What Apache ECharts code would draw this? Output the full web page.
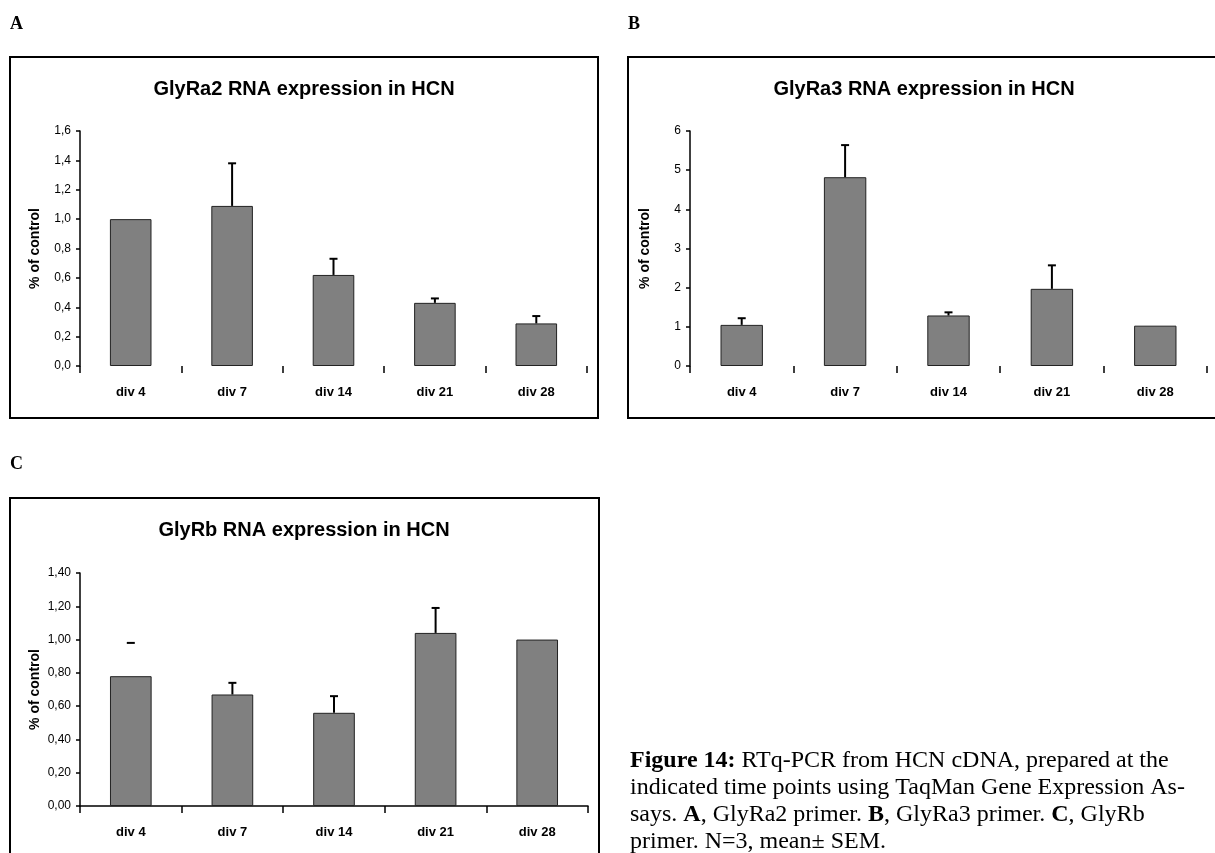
<!DOCTYPE html>
<html>
<head>
<meta charset="utf-8">
<title>GlyR RNA expression in HCN</title>
<script src="https://cdn.jsdelivr.net/npm/echarts@6/dist/echarts.min.js"></script>
<style>
  html, body { margin: 0; padding: 0; background: #fff; }
  #chart { width: 1215px; height: 853px; }
</style>
</head>
<body>
<div id="chart"></div>
<script>
// Days in vitro at which cDNA was prepared
const categories = ['div 4', 'div 7', 'div 14', 'div 21', 'div 28'];

// GlyRa2: mean and mean + SEM
const ra2Mean  = [1.00, 1.09, 0.62, 0.43, 0.29];
const ra2Upper = [null, 1.38, 0.73, 0.46, 0.34];
const ra2Ticks = ['0,0', '0,2', '0,4', '0,6', '0,8', '1,0', '1,2', '1,4', '1,6'];

// GlyRa3: mean and mean + SEM
const ra3Mean  = [1.05, 4.82, 1.29, 1.97, 1.03];
const ra3Upper = [1.22, 5.64, 1.37, 2.57, null];
const ra3Ticks = ['0', '1', '2', '3', '4', '5', '6'];

// GlyRb: mean and mean + SEM
const rbMean  = [0.78, 0.67, 0.56, 1.04, 1.00];
const rbUpper = [0.98, 0.74, 0.66, 1.19, null];
const rbTicks = ['0,00', '0,20', '0,40', '0,60', '0,80', '1,00', '1,20', '1,40'];

const panelTitles = [
  'GlyRa2 RNA expression in HCN',
  'GlyRa3 RNA expression in HCN',
  'GlyRb RNA expression in HCN'
];
const yName = '% of control';

const SANS = '"Liberation Sans", Arial, sans-serif';
const SERIF = '"Liberation Serif", "Times New Roman", serif';

const panels = [
  { mean: ra2Mean, upper: ra2Upper, ticks: ra2Ticks, step: 0.2, grid: { left: 80, top: 131, width: 507, height: 235 }, showBase: false, hideStem: [] },
  { mean: ra3Mean, upper: ra3Upper, ticks: ra3Ticks, step: 1,   grid: { left: 690, top: 131, width: 517, height: 235 }, showBase: false, hideStem: [] },
  { mean: rbMean,  upper: rbUpper,  ticks: rbTicks,  step: 0.2, grid: { left: 80, top: 573, width: 508, height: 233 }, showBase: true,  hideStem: [0] }
];

const grids = [], xAxes = [], yAxes = [], series = [];

panels.forEach((p, k) => {
  grids.push(Object.assign({ containLabel: false }, p.grid));
  xAxes.push({
    type: 'category', gridIndex: k, data: categories,
    axisLine: { show: p.showBase, lineStyle: { color: '#000', width: 1.5 } },
    axisTick: { show: true, interval: 0, length: 7, inside: false, lineStyle: { color: '#000', width: 1.5 } },
    axisLabel: { color: '#000', fontFamily: SANS, fontWeight: 'bold', fontSize: 13, margin: 20 },
    splitLine: { show: false }
  });
  const maxVal = (p.ticks.length - 1) * p.step;
  yAxes.push({
    type: 'value', gridIndex: k, min: 0, max: maxVal, interval: p.step,
    name: yName, nameLocation: 'middle', nameRotate: 90, nameGap: 38,
    nameTextStyle: { color: '#000', fontFamily: SANS, fontWeight: 'bold', fontSize: 14 },
    axisLine: { show: true, lineStyle: { color: '#000', width: 1.5 } },
    axisTick: { show: true, length: 4, lineStyle: { color: '#000', width: 1.5 } },
    axisLabel: {
      color: '#000', fontFamily: SANS, fontSize: 12, margin: 9,
      formatter: v => p.ticks[Math.round(v / p.step)]
    },
    splitLine: { show: false }
  });
  series.push({
    type: 'bar', xAxisIndex: k, yAxisIndex: k, data: p.mean,
    barWidth: '41%',
    itemStyle: { color: '#808080', borderColor: '#222', borderWidth: 1 },
    silent: true, animation: false
  });
  const errData = [];
  p.upper.forEach((u, i) => { if (u != null) errData.push([i, p.mean[i], u]); });
  series.push({
    type: 'custom', xAxisIndex: k, yAxisIndex: k, data: errData,
    animation: false, silent: true, z: 5,
    renderItem: (params, api) => {
      const i = api.value(0);
      const base = api.coord([i, api.value(1)]);
      const top = api.coord([i, api.value(2)]);
      const children = [{
        type: 'line',
        shape: { x1: top[0] - 4, y1: top[1], x2: top[0] + 4, y2: top[1] },
        style: { stroke: '#000', lineWidth: 2 }
      }];
      if (p.hideStem.indexOf(i) < 0) {
        children.push({
          type: 'line',
          shape: { x1: base[0], y1: base[1], x2: top[0], y2: top[1] },
          style: { stroke: '#000', lineWidth: 2 }
        });
      }
      return { type: 'group', children };
    }
  });
});

const graphic = [
  // panel frames
  { type: 'rect', shape: { x: 10, y: 57, width: 588, height: 361 }, style: { fill: 'none', stroke: '#000', lineWidth: 2 }, z: -1 },
  { type: 'rect', shape: { x: 628, y: 57, width: 600, height: 361 }, style: { fill: 'none', stroke: '#000', lineWidth: 2 }, z: -1 },
  { type: 'rect', shape: { x: 10, y: 498, width: 589, height: 400 }, style: { fill: 'none', stroke: '#000', lineWidth: 2 }, z: -1 },
  // panel letters
  { type: 'text', x: 10, y: 24, style: { text: 'A', font: 'bold 18px ' + SERIF, fill: '#000', textVerticalAlign: 'middle' } },
  { type: 'text', x: 628, y: 24, style: { text: 'B', font: 'bold 18px ' + SERIF, fill: '#000', textVerticalAlign: 'middle' } },
  { type: 'text', x: 10, y: 464, style: { text: 'C', font: 'bold 18px ' + SERIF, fill: '#000', textVerticalAlign: 'middle' } },
  // panel titles
  { type: 'text', x: 304, y: 89, style: { text: panelTitles[0], font: 'bold 20px ' + SANS, fill: '#000', textAlign: 'center', textVerticalAlign: 'middle' } },
  { type: 'text', x: 924, y: 89, style: { text: panelTitles[1], font: 'bold 20px ' + SANS, fill: '#000', textAlign: 'center', textVerticalAlign: 'middle' } },
  { type: 'text', x: 304, y: 530, style: { text: panelTitles[2], font: 'bold 20px ' + SANS, fill: '#000', textAlign: 'center', textVerticalAlign: 'middle' } }
];

// figure legend, four lines
const captionLines = [
  '{b|Figure 14:} RTq-PCR from HCN cDNA, prepared at the',
  'indicated time points using TaqMan Gene Expression As-',
  'says. {b|A}, GlyRa2 primer. {b|B}, GlyRa3 primer. {b|C}, GlyRb',
  'primer. N=3, mean\u00b1 SEM.'
];
captionLines.forEach((line, i) => {
  graphic.push({
    type: 'text', x: 630, y: 761 + i * 27,
    style: {
      text: line, fill: '#000', font: '24px ' + SERIF, textVerticalAlign: 'middle',
      rich: { b: { fontWeight: 'bold', fontFamily: SERIF, fontSize: 24, fill: '#000' } }
    }
  });
});

const chart = echarts.init(document.getElementById('chart'), null, { renderer: 'canvas' });
chart.setOption({
  backgroundColor: '#fff',
  animation: false,
  grid: grids,
  xAxis: xAxes,
  yAxis: yAxes,
  series: series,
  graphic: graphic
});
</script>
</body>
</html>
